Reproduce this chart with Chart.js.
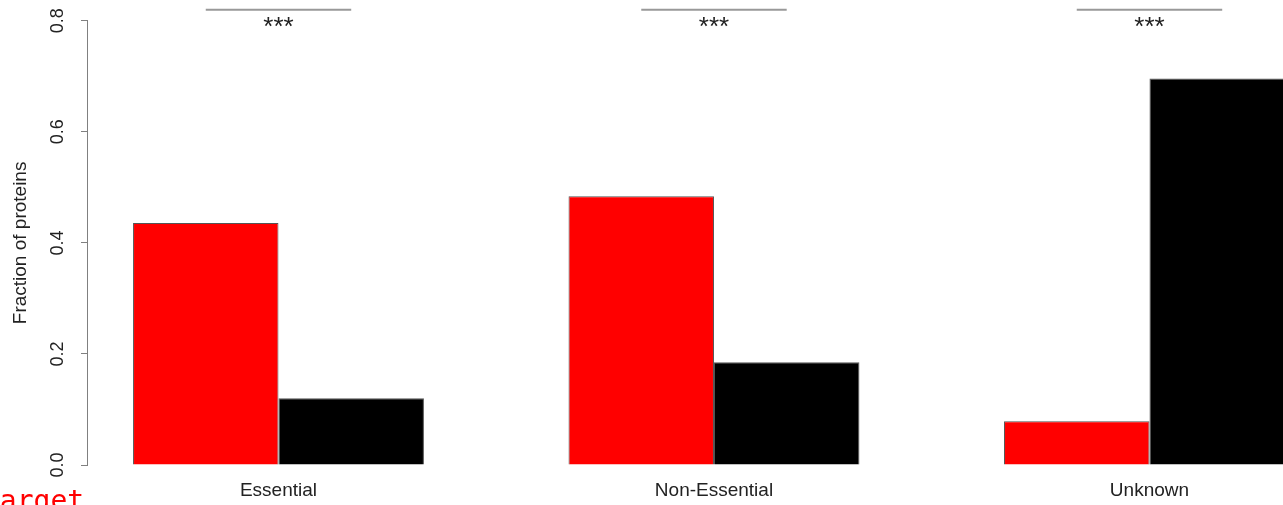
<!DOCTYPE html>
<html>
<head>
<meta charset="utf-8">
<script src="https://cdn.jsdelivr.net/npm/chart.js@4/dist/chart.umd.min.js"></script>
<style>
  body { margin: 0; background: #fff; overflow: hidden; }
  #wrap { position: relative; width: 1283px; height: 505px; }
</style>
</head>
<body>
<div id="wrap"><canvas id="barChart"></canvas></div>
<script>
// values
var categories = ['Essential', 'Non-Essential', 'Unknown'];
var targetValues = [0.436, 0.484, 0.079];
var otherValues = [0.120, 0.185, 0.696];
var sigLabels = ['***', '***', '***'];
var sigLevel = 0.82;
var yTicks = [0, 0.2, 0.4, 0.6, 0.8];

var axisGrey = '#808080';
var textColor = '#222222';

function ToPoints(values) {
    var points = [];
    for (var i = 0; i < values.length; i++) {
        points.push({ x: i, y: values[i] });
    }
    return points;
}

// significance bars over each group + the cut-off "Target" label
var sigPlugin = {
    id: 'sigPlugin',
    afterDatasetsDraw: function(chart) {
        var ctx = chart.ctx;
        var xs = chart.scales.x;
        var ys = chart.scales.y;
        var meta = chart.getDatasetMeta(0);
        ctx.save();
        for (var i = 0; i < categories.length; i++) {
            var cx = xs.getPixelForValue(i);
            var w = meta.data[i].width;
            var ly = ys.getPixelForValue(sigLevel);
            ctx.strokeStyle = '#999999';
            ctx.lineWidth = 2;
            ctx.beginPath();
            ctx.moveTo(cx - w / 2, ly);
            ctx.lineTo(cx + w / 2, ly);
            ctx.stroke();

            ctx.fillStyle = textColor;
            ctx.font = '26px "Liberation Sans", Arial, sans-serif';
            ctx.textAlign = 'center';
            ctx.textBaseline = 'alphabetic';
            ctx.fillText(sigLabels[i], cx, ly + 25);
        }
        ctx.restore();
    },
    afterDraw: function(chart) {
        var ctx = chart.ctx;
        ctx.save();
        ctx.fillStyle = '#ff0000';
        ctx.font = '28px "DejaVu Sans Mono", monospace';
        ctx.textAlign = 'left';
        ctx.textBaseline = 'alphabetic';
        ctx.fillText('Target', -17, 510);
        ctx.restore();
    }
};

var ctx = document.getElementById('barChart');
var barChart = new Chart(ctx, {
    type: 'bar',
    data: {
        datasets: [
            {
                label: 'Target',
                data: ToPoints(targetValues),
                backgroundColor: '#ff0000',
                borderColor: '#555555',
                borderWidth: 1
            },
            {
                label: 'Other',
                data: ToPoints(otherValues),
                backgroundColor: '#000000',
                borderColor: '#555555',
                borderWidth: 1
            }
        ]
    },
    options: {
        responsive: true,
        maintainAspectRatio: false,
        animation: false,
        categoryPercentage: 0.668,
        barPercentage: 1.0,
        layout: { padding: { top: 19, right: 0, bottom: 0, left: 0 } },
        plugins: {
            legend: { display: false },
            tooltip: { enabled: false }
        },
        scales: {
            x: {
                type: 'linear',
                offset: false,
                min: -0.4397,
                max: 2.3066,
                afterBuildTicks: function(scale) {
                    scale.ticks = categories.map(function(c, i) { return { value: i }; });
                },
                afterFit: function(scale) { scale.height = 40; },
                grid: { display: false, drawTicks: false },
                border: { display: false },
                ticks: {
                    padding: 14,
                    color: textColor,
                    font: { family: '"Liberation Sans", Arial, sans-serif', size: 19 },
                    maxRotation: 0,
                    callback: function(value) { return categories[value]; }
                }
            },
            y: {
                min: 0,
                max: 0.8,
                afterBuildTicks: function(scale) {
                    scale.ticks = yTicks.map(function(v) { return { value: v }; });
                },
                afterFit: function(scale) { scale.width = 87; },
                grid: {
                    drawOnChartArea: false,
                    drawTicks: true,
                    tickLength: 6,
                    color: axisGrey,
                    lineWidth: 1
                },
                border: { display: true, color: axisGrey, width: 1 },
                ticks: {
                    minRotation: 90,
                    maxRotation: 90,
                    crossAlign: 'center',
                    padding: 10,
                    color: textColor,
                    font: { family: '"Liberation Sans", Arial, sans-serif', size: 18 },
                    callback: function(value) { return value.toFixed(1); }
                },
                title: {
                    display: true,
                    text: 'Fraction of proteins',
                    color: textColor,
                    padding: { top: 9, bottom: 0 },
                    font: { family: '"Liberation Sans", Arial, sans-serif', size: 19 }
                }
            }
        }
    },
    plugins: [sigPlugin]
});
</script>
</body>
</html>
